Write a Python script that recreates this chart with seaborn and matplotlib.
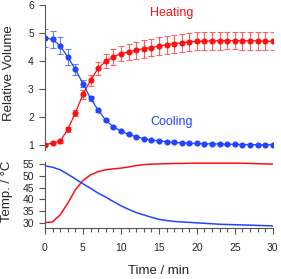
import numpy as np
import pandas as pd
import matplotlib
matplotlib.use('Agg')
import matplotlib.pyplot as plt
import seaborn as sns
from matplotlib.ticker import MultipleLocator

sns.set_style('ticks')
plt.rcParams['font.family'] = ['Liberation Sans', 'DejaVu Sans']

time = list(range(0, 31))

# relative volume while heating / cooling
heating = [1.00, 1.07, 1.13, 1.55, 2.14, 2.80, 3.31, 3.73, 3.99, 4.14, 4.26,
           4.32, 4.38, 4.44, 4.48, 4.53, 4.58, 4.62, 4.65, 4.68, 4.70, 4.71,
           4.72, 4.72, 4.73, 4.73, 4.72, 4.72, 4.72, 4.71, 4.70]
heating_err = [0.03, 0.04, 0.05, 0.08, 0.10, 0.16, 0.20, 0.23, 0.25, 0.27, 0.28,
               0.30, 0.31, 0.32, 0.32, 0.32, 0.32, 0.32, 0.32, 0.32, 0.32, 0.32,
               0.32, 0.32, 0.32, 0.32, 0.32, 0.32, 0.32, 0.32, 0.32]
cooling = [4.83, 4.77, 4.54, 4.14, 3.70, 3.19, 2.66, 2.24, 1.88, 1.64, 1.50,
           1.37, 1.29, 1.22, 1.17, 1.14, 1.11, 1.09, 1.07, 1.06, 1.05, 1.04,
           1.03, 1.03, 1.02, 1.02, 1.01, 1.01, 1.00, 1.00, 1.00]
cooling_err = [0.33, 0.31, 0.30, 0.27, 0.20, 0.14, 0.08, 0.05, 0.04, 0.03, 0.03,
               0.02, 0.02, 0.02, 0.02, 0.02, 0.02, 0.02, 0.02, 0.02, 0.02, 0.02,
               0.02, 0.02, 0.02, 0.02, 0.02, 0.02, 0.02, 0.02, 0.02]

# temperature traces
temp_heat = [30.0, 30.3, 33.3, 38.3, 44.0, 48.0, 50.4, 51.8, 52.6, 53.0, 53.3,
             53.8, 54.4, 54.8, 55.0, 55.1, 55.2, 55.3, 55.3, 55.4, 55.4, 55.4,
             55.4, 55.4, 55.4, 55.4, 55.4, 55.3, 55.2, 55.1, 55.0]
temp_cool = [54.3, 53.7, 52.6, 50.7, 48.7, 46.6, 44.7, 42.6, 40.9, 39.0, 37.2,
             35.7, 34.3, 33.3, 32.3, 31.4, 30.9, 30.5, 30.3, 30.1, 29.9, 29.7,
             29.5, 29.3, 29.2, 29.1, 29.0, 28.9, 28.8, 28.7, 28.6]

red = '#FF1010'
blue = '#2244FF'
spine = '#555555'

fig = plt.figure(figsize=(2.81, 2.79), dpi=100)
ax1 = fig.add_axes([0.160, 0.461, 0.811, 0.521])
ax2 = fig.add_axes([0.160, 0.182, 0.811, 0.238])

vol = pd.DataFrame({'t': time, 'heat': heating, 'cool': cooling})
ax1.errorbar(time, heating, yerr=heating_err, fmt='none', ecolor='#FF6060',
             elinewidth=0.8, capsize=2.2, capthick=0.8)
ax1.errorbar(time, cooling, yerr=cooling_err, fmt='none', ecolor='#6080FF',
             elinewidth=0.8, capsize=2.2, capthick=0.8)
sns.lineplot(data=vol, x='t', y='heat', ax=ax1, color=red, marker='o',
             markersize=4.4, markeredgewidth=0, linewidth=0.9)
sns.lineplot(data=vol, x='t', y='cool', ax=ax1, color=blue, marker='o',
             markersize=4.4, markeredgewidth=0, linewidth=0.9)
ax1.text(16.7, 5.71, 'Heating', color=red, fontsize=9, ha='center', va='center')
ax1.text(16.7, 1.82, 'Cooling', color=blue, fontsize=9, ha='center', va='center')
ax1.set_xlim(0, 30)
ax1.set_ylim(0.8, 6)
ax1.set_yticks([1, 2, 3, 4, 5, 6])
ax1.set_ylabel('Relative Volume', fontsize=9.5)
ax1.yaxis.set_label_coords(-0.13, 0.53)
ax1.set_xlabel('')
ax1.xaxis.set_visible(False)
for s in ['top', 'right', 'bottom']:
    ax1.spines[s].set_visible(False)

temp = pd.DataFrame({'t': time, 'heat': temp_heat, 'cool': temp_cool})
sns.lineplot(data=temp, x='t', y='heat', ax=ax2, color=red, linewidth=1.1)
sns.lineplot(data=temp, x='t', y='cool', ax=ax2, color=blue, linewidth=1.1)
ax2.set_xlim(0, 30)
ax2.set_ylim(27.6, 56)
ax2.set_yticks([30, 35, 40, 45, 50, 55])
ax2.set_xticks([0, 5, 10, 15, 20, 25, 30])
ax2.xaxis.set_minor_locator(MultipleLocator(1))
ax2.set_ylabel('Temp. / °C', fontsize=9.5)
ax2.yaxis.set_label_coords(-0.14, 0.55)
ax2.set_xlabel('Time / min', fontsize=9.5)
ax2.xaxis.set_label_coords(0.5, -0.56)
for s in ['top', 'right']:
    ax2.spines[s].set_visible(False)

for ax in (ax1, ax2):
    for s in ['left', 'bottom']:
        ax.spines[s].set_color(spine)
        ax.spines[s].set_linewidth(0.8)
    ax.tick_params(which='major', direction='out', length=4.5, width=0.8,
                   color=spine, labelsize=7.5)
    ax.tick_params(which='minor', direction='out', length=2.9, width=0.8,
                   color=spine)
    ax.tick_params(axis='y', pad=3.5)
    ax.set_facecolor('none')
ax2.tick_params(axis='x', which='major', pad=6.5)

fig.savefig('out.png', dpi=100)
